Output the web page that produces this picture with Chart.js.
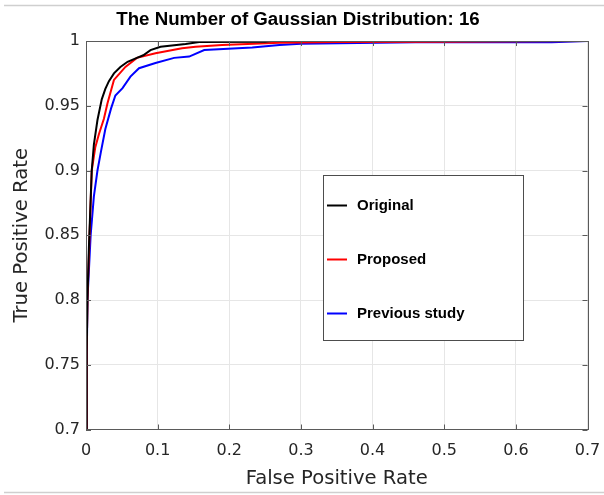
<!DOCTYPE html>
<html>
<head>
<meta charset="utf-8">
<script src="https://cdn.jsdelivr.net/npm/chart.js@4"></script>
<style>
  html, body { margin: 0; padding: 0; background: #fff; }
  #wrap { width: 604px; height: 495px; position: relative; }
</style>
</head>
<body>
<div id="wrap"><canvas id="roc"></canvas></div>
<script>
/* ─── Data ────────────────────────────────────────────── */
const origFpr = [0, 0.001, 0.002, 0.004, 0.006, 0.008, 0.011, 0.016, 0.022, 0.027, 0.032, 0.039, 0.048, 0.058, 0.071, 0.08, 0.09, 0.104, 0.139, 0.158, 0.25, 0.26, 0.7];
const origTpr = [0.7, 0.76, 0.8, 0.84, 0.87, 0.9, 0.92, 0.939, 0.955, 0.963, 0.969, 0.975, 0.98, 0.984, 0.987, 0.989, 0.993, 0.9956, 0.9977, 0.9992, 0.9995, 1.0, 1.0];

const propFpr = [0, 0.001, 0.002, 0.005, 0.008, 0.013, 0.018, 0.025, 0.03, 0.039, 0.055, 0.071, 0.097, 0.134, 0.153, 0.19, 0.27, 0.35, 0.5, 0.63, 0.7];
const propTpr = [0.7, 0.76, 0.8, 0.85, 0.9, 0.918, 0.928, 0.94, 0.952, 0.97, 0.98, 0.987, 0.9905, 0.9944, 0.9956, 0.997, 0.9987, 0.9992, 0.9995, 0.9998, 1.0];

const prevFpr = [0, 0.001, 0.002, 0.0065, 0.011, 0.016, 0.021, 0.027, 0.035, 0.041, 0.051, 0.062, 0.074, 0.097, 0.123, 0.144, 0.165, 0.232, 0.27, 0.3, 0.46, 0.65, 0.7];
const prevTpr = [0.7, 0.75, 0.8, 0.85, 0.88, 0.9, 0.915, 0.932, 0.948, 0.958, 0.9636, 0.9725, 0.979, 0.983, 0.987, 0.988, 0.993, 0.995, 0.997, 0.998, 0.999, 0.999, 1.0];

const seriesNames = ['Original', 'Proposed', 'Previous study'];
const xTickLabels = ['0', '0.1', '0.2', '0.3', '0.4', '0.5', '0.6', '0.7'];
const yTickLabels = ['0.7', '0.75', '0.8', '0.85', '0.9', '0.95', '1'];

const pts = (xs, ys) => xs.map((x, i) => ({ x, y: ys[i] }));

/* ─── Styles ──────────────────────────────────────────── */
const AXIS = '#5a5a5a';
const GRID = '#e6e6e6';
const TICK_FONT = { family: "'DejaVu Sans', sans-serif", size: 16 };
const LABEL_FONT = { family: "'DejaVu Sans', sans-serif", size: 19.6 };

/* ─── Box, inner ticks, legend, page rules ────────────── */
const matlabFrame = {
  id: 'matlabFrame',
  afterDraw(chart) {
    const { ctx, chartArea: a, scales: { x, y } } = chart;
    ctx.save();
    // page separator rules
    ctx.strokeStyle = '#cfcfcf';
    ctx.lineWidth = 1.5;
    ctx.beginPath();
    ctx.moveTo(4, 5.5); ctx.lineTo(604, 5.5);
    ctx.moveTo(4, 492.5); ctx.lineTo(604, 492.5);
    ctx.stroke();

    // axes box
    ctx.strokeStyle = AXIS;
    ctx.lineWidth = 1;
    ctx.strokeRect(Math.round(a.left) + 0.5, Math.round(a.top) + 0.5,
                   Math.round(a.right - a.left), Math.round(a.bottom - a.top));

    // inner tick marks
    const tl = 5;
    ctx.beginPath();
    x.ticks.forEach(t => {
      const px = Math.round(x.getPixelForValue(t.value)) + 0.5;
      ctx.moveTo(px, a.bottom); ctx.lineTo(px, a.bottom - tl);
      ctx.moveTo(px, a.top); ctx.lineTo(px, a.top + tl);
    });
    y.ticks.forEach(t => {
      const py = Math.round(y.getPixelForValue(t.value)) + 0.5;
      ctx.moveTo(a.left, py); ctx.lineTo(a.left + tl, py);
      ctx.moveTo(a.right, py); ctx.lineTo(a.right - tl, py);
    });
    ctx.stroke();

    // legend
    const bx = 323.5, by = 175.5, bw = 200, bh = 165;
    ctx.fillStyle = '#fff';
    ctx.fillRect(bx, by, bw, bh);
    ctx.strokeStyle = '#4d4d4d';
    ctx.strokeRect(bx, by, bw, bh);
    const rows = [205.5, 259.5, 313.5];
    ctx.font = "bold 15px 'Liberation Sans', Arial, sans-serif";
    ctx.textBaseline = 'middle';
    chart.data.datasets.forEach((ds, i) => {
      ctx.strokeStyle = ds.borderColor;
      ctx.lineWidth = 2;
      ctx.beginPath();
      ctx.moveTo(327, rows[i]); ctx.lineTo(347, rows[i]);
      ctx.stroke();
      ctx.fillStyle = '#000';
      ctx.fillText(ds.label, 357, rows[i]);
    });
    ctx.restore();
  }
};

/* ─── Chart ───────────────────────────────────────────── */
const line = (label, data, color) => ({
  label, data, borderColor: color, backgroundColor: color,
  borderWidth: 2, pointRadius: 0, showLine: true, tension: 0, fill: false
});

new Chart(document.getElementById('roc'), {
  type: 'scatter',
  data: {
    datasets: [
      line(seriesNames[0], pts(origFpr, origTpr), '#000000'),
      line(seriesNames[1], pts(propFpr, propTpr), '#ff0000'),
      line(seriesNames[2], pts(prevFpr, prevTpr), '#0000ff')
    ]
  },
  options: {
    responsive: true, maintainAspectRatio: false, animation: false,
    layout: { padding: { top: 0, right: 16.5, bottom: 0, left: 8.5 } },
    plugins: {
      legend: { display: false },
      tooltip: { enabled: false },
      title: {
        display: true,
        text: 'The Number of Gaussian Distribution: 16',
        color: '#000',
        font: { family: "'Liberation Sans', Arial, sans-serif", size: 18.7, weight: 'bold' },
        padding: { top: 9, bottom: 9.6 }
      }
    },
    scales: {
      x: {
        type: 'linear', min: 0, max: 0.7,
        afterFit: s => { s.height = 65.5; s.paddingLeft = 0; s.paddingRight = 0; },
        border: { display: false },
        grid: { color: GRID, drawTicks: false },
        ticks: { stepSize: 0.1, padding: 12, color: '#262626', font: TICK_FONT, maxRotation: 0,
                 callback: (v, i) => xTickLabels[i] },
        title: { display: true, text: 'False Positive Rate', color: '#262626', font: LABEL_FONT,
                 padding: { top: 0, bottom: 4 } }
      },
      y: {
        type: 'linear', min: 0.7, max: 1,
        afterFit: s => { s.width = 77.5; },
        border: { display: false },
        grid: { color: GRID, drawTicks: false },
        ticks: { stepSize: 0.05, padding: 6, color: '#262626', font: TICK_FONT,
                 callback: (v, i) => yTickLabels[i] },
        title: { display: true, text: 'True Positive Rate', color: '#262626', font: LABEL_FONT,
                 padding: { top: 2, bottom: 0 } }
      }
    }
  },
  plugins: [matlabFrame]
});
</script>
</body>
</html>
